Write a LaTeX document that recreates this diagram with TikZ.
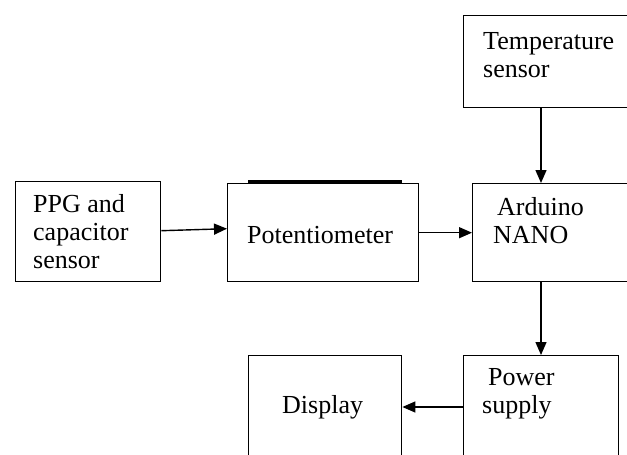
\documentclass[tikz,border=0pt]{standalone}
\usepackage{fontspec}
\setmainfont{Liberation Serif}
\usetikzlibrary{arrows.meta,calc}
\begin{document}
\begin{tikzpicture}[x=1pt,y=-1pt,
  blockbox/.style={draw,line width=1.4pt,inner sep=0pt,anchor=north west},
  lbl/.style={inner sep=0pt,anchor=base west,align=left,font=\fontsize{26}{28}\selectfont},
  conn/.style={line width=1.4pt,-{Triangle[length=13pt,width=11pt]}}]
\useasboundingbox (0,0) rectangle (627,455);
\clip (0,0) rectangle (627,455);
\fill[white] (0,0) rectangle (627,455);
% boxes
\node[blockbox,minimum width=145pt,minimum height=100pt] (ppg) at (15,181) {};
\node[blockbox,minimum width=191pt,minimum height=98pt] (pot) at (227,183) {};
\node[blockbox,minimum width=240pt,minimum height=92pt] (temp) at (463,15) {};
\node[blockbox,minimum width=240pt,minimum height=98pt] (ard) at (472,183) {};
\node[blockbox,minimum width=155pt,minimum height=130pt] (pow) at (463,355) {};
\node[blockbox,minimum width=153pt,minimum height=130pt] (disp) at (248,355) {};
% labels (base anchor = baseline of last line)
\node[lbl] (tppg) at (33,268) {PPG and\\capacitor\\sensor};
\node[lbl] (tpot) at (247,243) {Potentiometer};
\node[lbl] (ttemp) at (483,77) {Temperature\\sensor};
\node[lbl] (tard) at (493,243) {\hspace{4pt}Arduino\\NANO};
\node[lbl] (tpow) at (482,413) {\hspace{6pt}Power\\supply};
\node[lbl] (tdisp) at (282,413) {Display};
% thick line on top of potentiometer
\draw[line width=2.6pt] ($(pot.north west)+(21,-1.5)$) -- ($(pot.north east)+(-17,-1.5)$);
% connectors
\draw[conn] ($(ppg.east)+(0,-1)$) -- ($(pot.west)+(0,-4)$);
\draw[conn] (pot.east) -- (ard.west);
\draw[conn] ($(temp.south west)+(78,0)$) -- ($(ard.north west)+(69,0)$);
\draw[conn] ($(ard.south west)+(69,0)$) -- ($(pow.north west)+(78,0)$);
\draw[conn] ($(pow.north west)+(0,52)$) -- ($(disp.north east)+(0,52)$);
\end{tikzpicture}
\end{document}
